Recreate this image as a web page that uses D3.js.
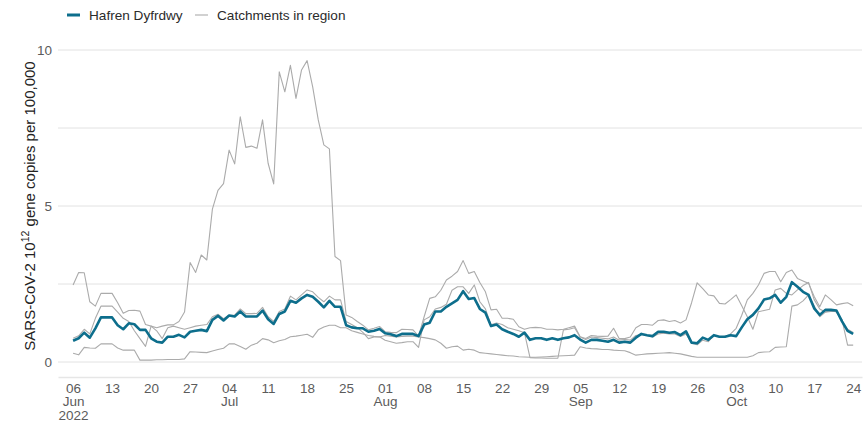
<!DOCTYPE html>
<html>
<head>
<meta charset="utf-8">
<script src="https://cdn.jsdelivr.net/npm/d3@7"></script>
<style>
  body { margin: 0; background: #fff; }
  svg { display: block; font-family: "Liberation Sans", Arial, sans-serif; }
</style>
</head>
<body>
<svg id="chart" width="868" height="423"></svg>
<script>
// Daily series, 6 June 2022 to 24 October 2022 (one value per day)
const startDate = "2022-06-06";
const endDate = "2022-10-24";

// Hafren Dyfrdwy regional average
const regionValues = [
  0.68, 0.76, 0.94, 0.78, 1.08, 1.43, 1.43, 1.43, 1.18, 1.05,
  1.24, 1.21, 1.03, 1.03, 0.76, 0.65, 0.62, 0.81, 0.81, 0.87,
  0.79, 0.97, 1.00, 1.03, 0.99, 1.35, 1.48, 1.33, 1.49, 1.46,
  1.62, 1.46, 1.46, 1.46, 1.65, 1.37, 1.22, 1.54, 1.62, 1.96,
  1.90, 2.04, 2.15, 2.09, 1.93, 1.75, 1.96, 1.77, 1.77, 1.18,
  1.11, 1.08, 1.08, 0.97, 1.00, 1.06, 0.92, 0.89, 0.83, 0.90,
  0.90, 0.90, 0.83, 1.20, 1.26, 1.62, 1.62, 1.77, 1.88, 1.99,
  2.27, 2.02, 2.05, 1.70, 1.58, 1.15, 1.20, 1.05, 0.97, 0.90,
  0.81, 0.94, 0.71, 0.76, 0.76, 0.71, 0.76, 0.71, 0.76, 0.79,
  0.86, 0.72, 0.62, 0.71, 0.71, 0.68, 0.65, 0.71, 0.62, 0.65,
  0.62, 0.78, 0.90, 0.86, 0.83, 0.97, 0.97, 0.94, 0.96, 0.86,
  0.98, 0.62, 0.60, 0.78, 0.71, 0.86, 0.81, 0.81, 0.86, 0.83,
  1.11, 1.37, 1.51, 1.72, 2.00, 2.04, 2.15, 1.90, 2.09, 2.56,
  2.41, 2.25, 2.15, 1.72, 1.51, 1.67, 1.67, 1.65, 1.30, 1.00,
  0.90
];

// Individual catchments
const catchmentA = [
  2.47, 2.87, 2.86, 1.93, 1.79, 2.20, 2.20, 2.20, 1.90, 1.56,
  1.65, 1.66, 1.63, 1.20, 1.15, 1.10, 1.15, 1.19, 1.19, 1.30,
  1.60, 3.19, 2.87, 3.43, 3.27, 4.90, 5.50, 5.72, 6.79, 6.35,
  7.86, 6.88, 6.92, 6.85, 7.76, 6.37, 5.71, 9.30, 8.66, 9.51,
  8.45, 9.36, 9.66, 8.82, 7.76, 6.96, 6.83, 3.38, 3.25, 1.51,
  1.43, 1.30, 1.18, 1.03, 1.08, 1.14, 0.97, 0.95, 0.94, 1.05,
  1.04, 1.03, 0.83, 1.45, 2.04, 2.09, 2.30, 2.63, 2.75, 2.90,
  3.25, 2.84, 2.90, 2.55, 2.25, 1.67, 1.69, 1.40, 1.40, 1.37,
  1.13, 1.05, 1.10, 1.11, 1.10, 1.05, 1.05, 1.03, 1.05, 1.10,
  1.15, 0.81, 0.75, 0.85, 0.83, 0.82, 0.83, 1.08, 0.75, 0.75,
  0.80, 1.10, 1.20, 1.20, 1.18, 1.33, 1.35, 1.30, 1.33, 1.25,
  1.35, 1.90, 2.54, 2.35, 2.15, 2.12, 1.88, 1.86, 2.00, 2.15,
  1.80, 1.45, 1.05, 1.61, 1.65, 1.69, 2.31, 2.36, 2.20, 2.15,
  2.31, 2.45, 2.55, 2.00, 1.70, 1.60, 1.65, 1.60, 1.35, 0.54,
  0.54
];

const catchmentB = [
  0.76, 0.84, 1.05, 0.90, 1.40, 1.79, 1.79, 1.79, 1.60, 1.40,
  1.30, 1.00, 0.75, 0.50, 1.15, 1.00, 0.75, 1.10, 1.15, 1.10,
  1.05, 1.10, 1.15, 1.18, 1.20, 1.45, 1.53, 1.39, 1.50, 1.50,
  1.70, 1.55, 1.55, 1.56, 1.75, 1.45, 1.30, 1.62, 1.70, 2.11,
  1.99, 2.15, 2.31, 2.25, 2.07, 1.93, 2.11, 1.99, 1.99, 1.30,
  1.20, 1.10, 0.95, 0.75, 0.80, 0.81, 0.70, 0.65, 0.60, 0.62,
  0.65, 0.65, 0.47, 1.35, 1.45, 1.70, 1.75, 1.85, 2.30, 2.41,
  2.41, 2.20, 2.47, 1.93, 1.70, 1.19, 1.25, 1.20, 1.10, 1.05,
  1.00, 0.94, 0.14, 0.13, 0.13, 0.12, 0.12, 0.12, 1.03, 1.05,
  1.10, 0.80, 0.72, 0.80, 0.78, 0.76, 0.74, 0.80, 0.70, 0.72,
  0.70, 0.85, 0.88, 0.85, 0.80, 0.90, 0.92, 0.90, 0.90, 0.82,
  0.90, 0.60, 0.55, 0.70, 0.65, 0.85, 0.80, 0.82, 0.90, 1.08,
  1.50, 1.99, 2.20, 2.47, 2.84, 2.90, 2.90, 2.57, 2.87, 2.95,
  2.68, 2.60, 2.52, 2.10, 1.77, 2.15, 2.00, 1.83, 1.87, 1.90,
  1.80
];

const catchmentC = [
  0.28, 0.23, 0.47, 0.45, 0.44, 0.58, 0.58, 0.58, 0.45, 0.38,
  0.38, 0.38, 0.06, 0.06, 0.06, 0.07, 0.07, 0.08, 0.08, 0.08,
  0.10, 0.33, 0.32, 0.31, 0.30, 0.35, 0.40, 0.44, 0.58, 0.58,
  0.50, 0.41, 0.54, 0.60, 0.75, 0.71, 0.62, 0.68, 0.72, 0.81,
  0.83, 0.86, 0.89, 0.79, 1.03, 1.12, 1.18, 1.18, 1.10, 1.10,
  1.00, 0.95, 0.90, 0.85, 0.82, 0.80, 0.85, 0.83, 0.80, 0.82,
  0.83, 0.83, 0.80, 0.78, 0.75, 0.71, 0.60, 0.44, 0.49, 0.51,
  0.38, 0.41, 0.38, 0.30, 0.28, 0.26, 0.24, 0.22, 0.20, 0.19,
  0.17, 0.16, 0.15, 0.15, 0.16, 0.17, 0.18, 0.19, 0.20, 0.21,
  0.22, 0.49, 0.45, 0.43, 0.42, 0.40, 0.40, 0.38, 0.37, 0.36,
  0.30, 0.22, 0.24, 0.26, 0.27, 0.28, 0.29, 0.30, 0.28, 0.26,
  0.22, 0.18, 0.15, 0.15, 0.15, 0.15, 0.15, 0.15, 0.15, 0.15,
  0.15, 0.15, 0.20, 0.30, 0.32, 0.33, 0.47, 0.48, 0.49, 1.79,
  1.83, 1.96, 2.15, 1.80, 1.45, 1.60, 1.62, 1.62, 1.30, 1.05,
  0.95
];

const seriesNames = ["Hafren Dyfrdwy", "Catchments in region"];
const yTickValues = [0, 5, 10];
const yGridValues = [0, 2.5, 5, 7.5, 10];
const yTitle = ["SARS-CoV-2 10", "12", " gene copies per 100,000"];

const regionColour = "#0d6e8c";
const catchmentColour = "#ababab";

const svg = d3.select("#chart");
const parse = d3.utcParse("%Y-%m-%d");
const firstDay = parse(startDate);
const lastDay = parse(endDate);
const dates = d3.utcDay.range(firstDay, d3.utcDay.offset(lastDay, 1));

const x = d3.scaleUtc()
  .domain([d3.utcHour.offset(firstDay, -65), d3.utcHour.offset(lastDay, 38)])
  .range([58, 862]);
const y = d3.scaleLinear().domain([0, 10]).range([362, 50]);
const axisY = y(-0.48);

const toPoints = vals => vals.map((v, i) => ({ date: dates[i], v }));
const line = d3.line().x(d => x(d.date)).y(d => y(d.v));

// horizontal gridlines
svg.append("g")
  .selectAll("line")
  .data(yGridValues)
  .join("line")
  .attr("x1", x.range()[0]).attr("x2", x.range()[1])
  .attr("y1", d => y(d)).attr("y2", d => y(d))
  .attr("stroke", "#e2e2e2").attr("stroke-width", 1);

// x axis: weekly Monday ticks with month / year beneath
const weekTicks = d3.utcMonday.range(firstDay, d3.utcDay.offset(lastDay, 1));
const fmtDay = d3.utcFormat("%d");
const fmtMonth = d3.utcFormat("%b");
const fmtYear = d3.utcFormat("%Y");

const xAxis = svg.append("g")
  .attr("transform", `translate(0,${axisY})`)
  .call(d3.axisBottom(x).tickValues(weekTicks).tickSize(0).tickPadding(6).tickFormat(fmtDay));
xAxis.select(".domain").attr("stroke", "#e6e6e6").attr("stroke-width", 1.5);
xAxis.selectAll(".tick text")
  .attr("fill", "#5b5b5b")
  .attr("font-size", "13.5px")
  .attr("font-family", "Liberation Sans, Arial, sans-serif");

xAxis.selectAll(".tick").each(function (d, i) {
  const prev = weekTicks[i - 1];
  const g = d3.select(this);
  if (!prev || prev.getUTCMonth() !== d.getUTCMonth()) {
    g.append("text")
      .attr("y", 6).attr("dy", "1.74em")
      .attr("fill", "#5b5b5b").attr("font-size", "13.5px")
      .attr("text-anchor", "middle")
      .text(fmtMonth(d));
  }
  if (!prev || prev.getUTCFullYear() !== d.getUTCFullYear()) {
    g.append("text")
      .attr("y", 6).attr("dy", "2.76em")
      .attr("fill", "#5b5b5b").attr("font-size", "13.5px")
      .attr("text-anchor", "middle")
      .text(fmtYear(d));
  }
});

// y axis labels
const yAxis = svg.append("g")
  .attr("transform", `translate(${x.range()[0]},0)`)
  .call(d3.axisLeft(y).tickValues(yTickValues).tickSize(0).tickPadding(6));
yAxis.select(".domain").remove();
yAxis.selectAll(".tick text")
  .attr("fill", "#5b5b5b")
  .attr("font-size", "13.5px")
  .attr("font-family", "Liberation Sans, Arial, sans-serif");

// y axis title
const title = svg.append("text")
  .attr("transform", `translate(35,${y(5)}) rotate(-90)`)
  .attr("text-anchor", "middle")
  .attr("fill", "#222")
  .attr("font-size", "15px");
title.append("tspan").text(yTitle[0]);
title.append("tspan").attr("baseline-shift", "super").attr("font-size", "10.5px").text(yTitle[1]);
title.append("tspan").text(yTitle[2]);

// catchment lines
const plot = svg.append("g");
plot.selectAll("path.catchment")
  .data([catchmentA, catchmentB, catchmentC])
  .join("path")
  .attr("class", "catchment")
  .attr("d", vals => line(toPoints(vals)))
  .attr("fill", "none")
  .attr("stroke", catchmentColour)
  .attr("stroke-width", 1.1)
  .attr("stroke-linejoin", "round");

// regional line on top
plot.append("path")
  .attr("d", line(toPoints(regionValues)))
  .attr("fill", "none")
  .attr("stroke", regionColour)
  .attr("stroke-width", 2.6)
  .attr("stroke-linejoin", "round");

// legend
const legend = svg.append("g").attr("font-size", "13.6px").attr("fill", "#2b2b2b");
const legendItems = [
  { name: seriesNames[0], colour: regionColour, width: 3, x: 67 },
  { name: seriesNames[1], colour: catchmentColour, width: 1.1, x: 195 }
];
legendItems.forEach(it => {
  legend.append("line")
    .attr("x1", it.x).attr("x2", it.x + 13)
    .attr("y1", 15).attr("y2", 15)
    .attr("stroke", it.colour).attr("stroke-width", it.width);
  legend.append("text")
    .attr("x", it.x + 22).attr("y", 15).attr("dy", "0.35em")
    .text(it.name);
});
</script>
</body>
</html>
